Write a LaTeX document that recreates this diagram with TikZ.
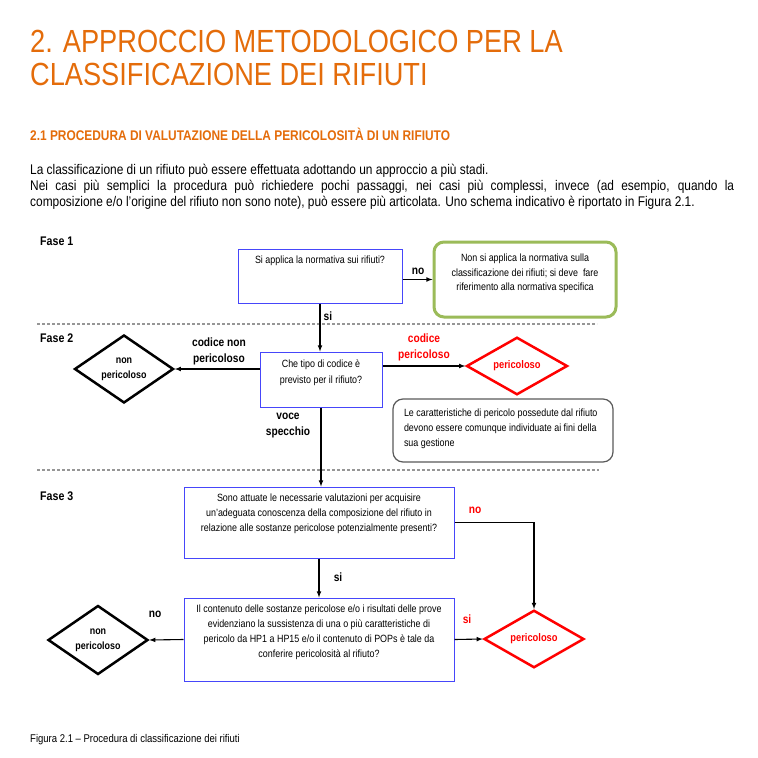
\documentclass[tikz,border=0pt]{standalone}
\usepackage{fontspec}
\setmainfont{Liberation Sans}[FakeStretch=0.85]
\usetikzlibrary{shapes.geometric,arrows,positioning,calc}
\definecolor{titleorange}{RGB}{228,108,10}
\definecolor{qblue}{RGB}{70,70,250}
\definecolor{okgreen}{RGB}{155,187,89}
\definecolor{notegray}{RGB}{90,90,90}
\definecolor{dashgray}{RGB}{150,150,150}
\definecolor{hazred}{RGB}{255,0,0}
\newcommand{\boxtxt}[4]{\parbox[t][#2][t]{#1}{\vspace*{#3}\centering #4}}
\newcommand{\notetxt}[4]{\parbox[t][#2][t]{#1}{\vspace*{#3}\raggedright\leftskip=11pt #4}}

\begin{document}
\begin{tikzpicture}[
    x=1pt, y=-1pt,
    arrow/.style={->, >=latex, line width=1.1pt},
    qbox/.style={rectangle, draw=qblue, line width=1pt, inner sep=0pt, font=\fontsize{10.5}{15}\selectfont},
    okbox/.style={rectangle, rounded corners=10pt, draw=okgreen, line width=3pt, inner sep=0pt, font=\fontsize{10.5}{14.5}\selectfont},
    notebox/.style={rectangle, rounded corners=10pt, draw=notegray, line width=1.2pt, inner sep=0pt, font=\fontsize{10.5}{15}\selectfont},
    safe/.style={diamond, draw=black, line width=2.5pt, inner sep=0pt, align=center, font=\bfseries\fontsize{10.5}{15}\selectfont},
    hazard/.style={diamond, draw=hazred, text=hazred, line width=2.5pt, inner sep=0pt, align=center, font=\bfseries\fontsize{11}{15}\selectfont},
    lbl/.style={font=\bfseries\fontsize{12}{16}\selectfont, align=center},
    phase/.style={font=\bfseries\fontsize{12.5}{14}\selectfont, anchor=base west, inner sep=0pt},
    phaseline/.style={draw=dashgray, line width=1.2pt, dash pattern=on 3pt off 2pt}
]
\useasboundingbox[fill=white] (0,0) rectangle (758,758);

% page text
\node[anchor=base west, inner sep=0pt, text=titleorange, font=\fontsize{32}{34}\selectfont] (title1) at (30,52) {2. APPROCCIO METODOLOGICO PER LA};
\node[anchor=base west, inner sep=0pt, text=titleorange, font=\fontsize{32}{34}\selectfont] (title2) at (30,85) {CLASSIFICAZIONE DEI RIFIUTI};
\node[anchor=base west, inner sep=0pt, text=titleorange, font=\bfseries\fontsize{14}{16}\selectfont] (subtitle) at (30,140) {2.1 PROCEDURA DI VALUTAZIONE DELLA PERICOLOSITÀ DI UN RIFIUTO};
\node[anchor=base west, inner sep=0pt, font=\fontsize{14}{16}\selectfont] (par1) at (30,174) {La classificazione di un rifiuto può essere effettuata adottando un approccio a più stadi.};
\node[anchor=base west, inner sep=0pt, font=\fontsize{14}{16}\selectfont] (par2) at (30,190) {\makebox[704pt][s]{Nei casi più semplici la procedura può richiedere pochi passaggi, nei casi più complessi, invece (ad esempio, quando la}};
\node[anchor=base west, inner sep=0pt, font=\fontsize{14}{16}\selectfont] (par3) at (30,206) {composizione e/o l’origine del rifiuto non sono note), può essere più articolata. Uno schema indicativo è riportato in Figura 2.1.};

% phases
\node[phase] (fase1) at (40,245) {Fase 1};
\node[phase] (fase2) at (40,342) {Fase 2};
\node[phase] (fase3) at (40,500) {Fase 3};
\coordinate (d1a) at (37,324);
\coordinate (d1b) at (597,324);
\coordinate (d2a) at (37,470);
\coordinate (d2b) at (599,470);
\draw[phaseline] (d1a) -- (d1b);
\draw[phaseline] (d2a) -- (d2b);

% Fase 1
\node[qbox] (box1) at (320,276) {\boxtxt{164pt}{54pt}{7pt}{Si applica la normativa sui rifiuti?}};
\node[okbox] (green) at (525,279.5) {\boxtxt{182pt}{75pt}{12pt}{Non si applica la normativa sulla\\classificazione dei rifiuti; si deve~ fare\\riferimento alla normativa specifica}};

% Fase 2
\node[qbox, font=\fontsize{10.5}{16}\selectfont] (box2) at (321,379.5) {\boxtxt{122pt}{55pt}{8pt}{Che tipo di codice è\\previsto per il rifiuto?}};
\node[safe, minimum width=99pt, minimum height=68pt] (safe1) at (124,369) {non\\pericoloso};
\node[hazard, minimum width=101pt, minimum height=55pt] (haz1) at (517,366) {pericoloso};
\node[notebox] (note) at (503,430.5) {\notetxt{220pt}{63pt}{10pt}{Le caratteristiche di pericolo possedute dal rifiuto\\devono essere comunque individuate ai fini della\\sua gestione}};

% Fase 3
\node[qbox] (box3) at (319,522.5) {\boxtxt{270pt}{71pt}{7pt}{Sono attuate le necessarie valutazioni per acquisire\\un’adeguata conoscenza della composizione del rifiuto in\\relazione alle sostanze pericolose potenzialmente presenti?}};
\node[qbox] (box4) at (319,639.5) {\boxtxt{270pt}{83pt}{7pt}{Il contenuto delle sostanze pericolose e/o i risultati delle prove\\evidenziano la sussistenza di una o più caratteristiche di\\pericolo da HP1 a HP15 e/o il contenuto di POPs è tale da\\conferire pericolosità al rifiuto?}};
\node[safe, minimum width=100pt, minimum height=69pt] (safe2) at (98,640) {non\\pericoloso};
\node[hazard, minimum width=100pt, minimum height=55pt] (haz2) at (534,639) {pericoloso};

% connectors
\draw[arrow] (box1.east |- green.west) -- (green.west);
\draw[arrow] (box1.south) -- (box1.south |- box2.north);
\draw[arrow] (box2.west |- safe1.east) -- (safe1.east);
\draw[arrow] (box2.east |- haz1.west) -- (haz1.west);
\draw[arrow] (box2.south) -- (box2.south |- box3.north);
\draw[arrow] (box3.east) -| (haz2.north);
\draw[arrow] (box3.south) -- (box4.north);
\draw[arrow] (box4.west) -- (safe2.east);
\draw[arrow] (box4.east) -- (haz2.west);

% labels
\node[lbl] (no1) at (418,271) {no};
\node[lbl] (si1) at (328,316) {si};
\node[lbl] (codnp) at (219,351) {codice non\\pericoloso};
\node[lbl, text=hazred] (codp) at (424,347) {codice\\pericoloso};
\node[lbl] (voce) at (288,426) {voce\\specchio};
\node[lbl, text=hazred] (no2) at (475,510) {no};
\node[lbl] (si2) at (338,577) {si};
\node[lbl] (no3) at (155,614) {no};
\node[lbl, text=hazred] (si3) at (467,619) {si};

% caption
\node[anchor=base west, inner sep=0pt, font=\fontsize{11.2}{13}\selectfont] (caption) at (30,742) {Figura 2.1 – Procedura di classificazione dei rifiuti};
\end{tikzpicture}
\end{document}
